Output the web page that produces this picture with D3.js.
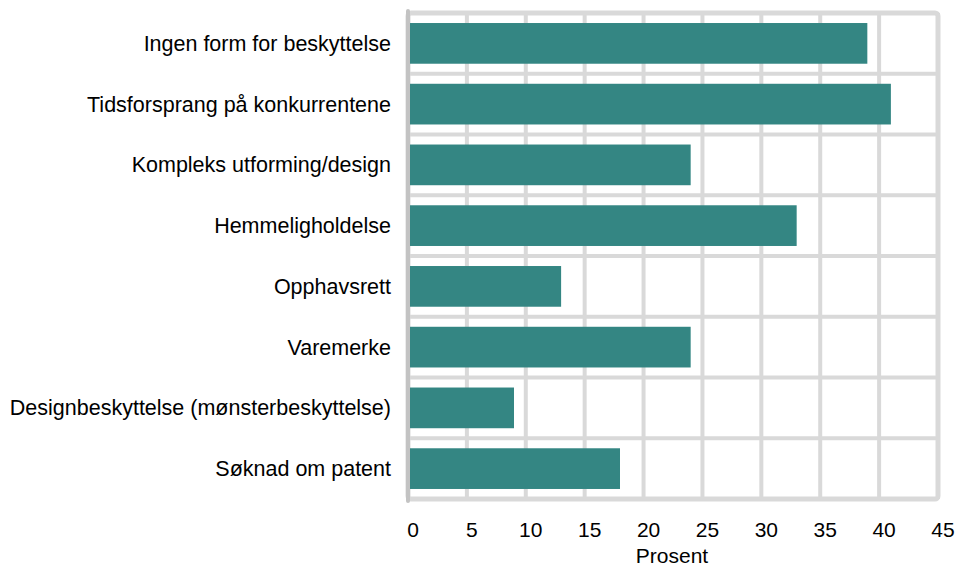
<!DOCTYPE html>
<html>
<head>
<meta charset="utf-8">
<script src="https://cdn.jsdelivr.net/npm/d3@7"></script>
<style>
  body { margin: 0; background: #fff; }
  text { font-family: "Liberation Sans", Arial, sans-serif; }
</style>
</head>
<body>
<div id="chart"></div>
<script>
const categories = [
  'Ingen form for beskyttelse',
  'Tidsforsprang på konkurrentene',
  'Kompleks utforming/design',
  'Hemmeligholdelse',
  'Opphavsrett',
  'Varemerke',
  'Designbeskyttelse (mønsterbeskyttelse)',
  'Søknad om patent'
];
const values = [39, 41, 24, 33, 13, 24, 9, 18];
const xTicks = [0, 5, 10, 15, 20, 25, 30, 35, 40, 45];
const xTitle = 'Prosent';

const W = 957, H = 567;
const margin = { top: 13, right: 19, bottom: 68, left: 408 };
const width = W - margin.left - margin.right,
      height = H - margin.top - margin.bottom;

const svg = d3.select('#chart').append('svg')
  .attr('width', W).attr('height', H);
const g = svg.append('g')
  .attr('transform', 'translate(' + margin.left + ',' + margin.top + ')');

const x = d3.scaleLinear().domain([0, 45]).range([0, width]);
const y = d3.scaleBand().domain(categories).range([0, height]).paddingInner(0.33).paddingOuter(0.165);
const yb = d3.scaleBand().domain(categories).range([0, height]);

const grid = '#d9d9d9';

// vertical gridlines
g.selectAll('.vg').data(xTicks.slice(1)).enter().append('line')
  .attr('x1', d => x(d)).attr('x2', d => x(d))
  .attr('y1', 0).attr('y2', height)
  .attr('stroke', grid).attr('stroke-width', 4);

// horizontal gridlines at band edges
g.selectAll('.hg').data(categories.slice(1)).enter().append('line')
  .attr('x1', 0).attr('x2', width)
  .attr('y1', d => yb(d)).attr('y2', d => yb(d))
  .attr('stroke', grid).attr('stroke-width', 4);

// frame
g.append('rect')
  .attr('x', 0).attr('y', 0).attr('width', width).attr('height', height)
  .attr('rx', 3).attr('fill', 'none')
  .attr('stroke', grid).attr('stroke-width', 5);

// bars
g.selectAll('.bar').data(values).enter().append('rect')
  .attr('x', x(0) + 2)
  .attr('y', (d, i) => y(categories[i]))
  .attr('width', d => x(d) - x(0) - 2)
  .attr('height', y.bandwidth())
  .attr('fill', '#348683');

// left axis line
g.append('line')
  .attr('x1', 0).attr('x2', 0).attr('y1', -2).attr('y2', height + 2)
  .attr('stroke', '#c3c3c3').attr('stroke-width', 4).attr('stroke-linecap', 'round');

// category labels
g.selectAll('.cat').data(categories).enter().append('text')
  .attr('x', -17)
  .attr('y', d => y(d) + y.bandwidth() / 2)
  .attr('dy', '0.35em')
  .attr('text-anchor', 'end')
  .attr('font-size', 21.5)
  .attr('fill', '#000')
  .text(d => d);

// x tick labels
g.selectAll('.xt').data(xTicks).enter().append('text')
  .attr('x', d => x(d) + 5)
  .attr('y', height + 38)
  .attr('text-anchor', 'middle')
  .attr('font-size', 21)
  .attr('fill', '#000')
  .text(d => d);

g.append('text')
  .attr('x', x(22.5) - 1)
  .attr('y', height + 64)
  .attr('text-anchor', 'middle')
  .attr('font-size', 21)
  .attr('fill', '#000')
  .text(xTitle);
</script>
</body>
</html>
